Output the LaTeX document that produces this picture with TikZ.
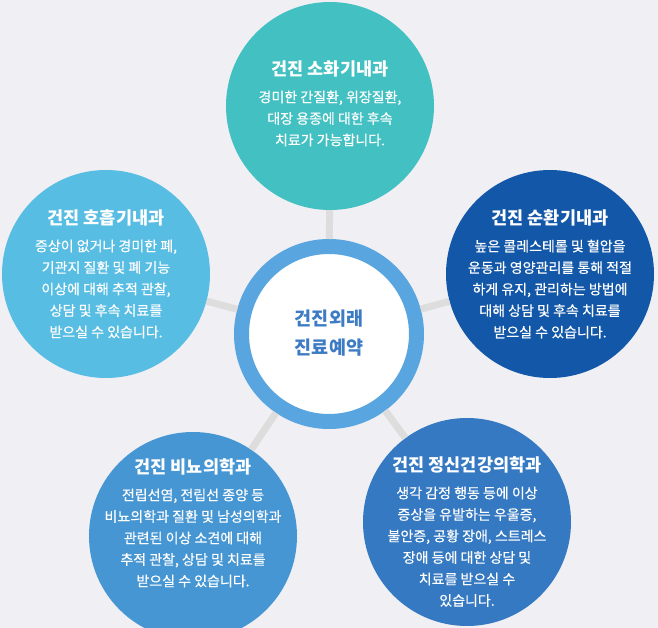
\documentclass[tikz,border=0pt]{standalone}
\usepackage{fontspec}
\setmainfont{Noto Sans CJK KR}
\newfontfamily\bodyfont{Noto Sans CJK KR}[FakeBold=0.5]
\usepackage{tikz}
\usetikzlibrary{positioning}
\definecolor{bgpaper}{RGB}{239, 239, 244}
\definecolor{linkgray}{RGB}{221, 221, 221}
\definecolor{ringblue}{RGB}{88, 165, 223}
\definecolor{hubtext}{RGB}{61, 123, 196}
\definecolor{tealc}{RGB}{66, 192, 194}
\definecolor{skyc}{RGB}{88, 189, 227}
\definecolor{navyc}{RGB}{19, 88, 168}
\definecolor{midc}{RGB}{70, 150, 211}
\definecolor{deepc}{RGB}{52, 121, 193}

\begin{document}
\begin{tikzpicture}[
  x=1pt, y=-1pt,
  bubble/.style={circle, minimum size=208pt, inner sep=0pt},
  hub/.style={circle, draw=ringblue, line width=15pt, fill=white, minimum size=175pt, inner sep=0pt},
  head/.style={font=\bfseries\fontsize{17.5}{20}\selectfont, text=white, inner sep=0pt},
  info/.style={font=\bodyfont\fontsize{14}{21.5}\selectfont, text=white, align=center, inner sep=0pt},
  link/.style={linkgray, line width=7pt}
]
  \useasboundingbox (0,0) rectangle (658,628);
  \clip (0,0) rectangle (658,628);
  \fill[bgpaper] (0,0) rectangle (658,628);

  % Center
  \node[hub] (hub) at (329,334) {};
  \node[font=\bfseries\fontsize{18.5}{29}\selectfont, text=hubtext, align=center] (hubtxt) at (329,333) {건진외래\\진료예약};

  % Bubbles
  \node[bubble, fill=tealc] (soh) at (330,106) {};
  \node[bubble, fill=skyc] (hoh) at (106,274) {};
  \node[bubble, fill=navyc] (sun) at (550,274) {};
  \node[bubble, fill=midc] (bin) at (193,536) {};
  \node[bubble, fill=deepc] (jeo) at (467,522) {};

  % Connectors
  \draw[link] (hub) -- (soh);
  \draw[link] (hub) -- (hoh);
  \draw[link] (hub) -- (sun);
  \draw[link] (hub) -- (bin);
  \draw[link] (hub) -- (jeo);

  % Texts
  \node[head] (soh-h) at (330,69) {건진 소화기내과};
  \node[info, below=13pt of soh-h] (soh-b) {경미한 간질환, 위장질환,\\대장 용종에 대한 후속\\치료가 가능합니다.};

  \node[head] (hoh-h) at (106,218) {건진 호흡기내과};
  \node[info, below=13pt of hoh-h] (hoh-b) {증상이 없거나 경미한 폐,\\기관지 질환 및 폐 기능\\이상에 대해 추적 관찰,\\상담 및 후속 치료를\\받으실 수 있습니다.};

  \node[head] (sun-h) at (550,218) {건진 순환기내과};
  \node[info, below=13pt of sun-h] (sun-b) {높은 콜레스테롤 및 혈압을\\운동과 영양관리를 통해 적절\\하게 유지, 관리하는 방법에\\대해 상담 및 후속 치료를\\받으실 수 있습니다.};

  \node[head] (bin-h) at (193,467) {건진 비뇨의학과};
  \node[info, below=13pt of bin-h] (bin-b) {전립선염, 전립선 종양 등\\비뇨의학과 질환 및 남성의학과\\관련된 이상 소견에 대해\\추적 관찰, 상담 및 치료를\\받으실 수 있습니다.};

  \node[head] (jeo-h) at (467,465) {건진 정신건강의학과};
  \node[info, below=13pt of jeo-h] (jeo-b) {생각 감정 행동 등에 이상\\증상을 유발하는 우울증,\\불안증, 공황 장애, 스트레스\\장애 등에 대한 상담 및\\치료를 받으실 수\\있습니다.};
\end{tikzpicture}
\end{document}
